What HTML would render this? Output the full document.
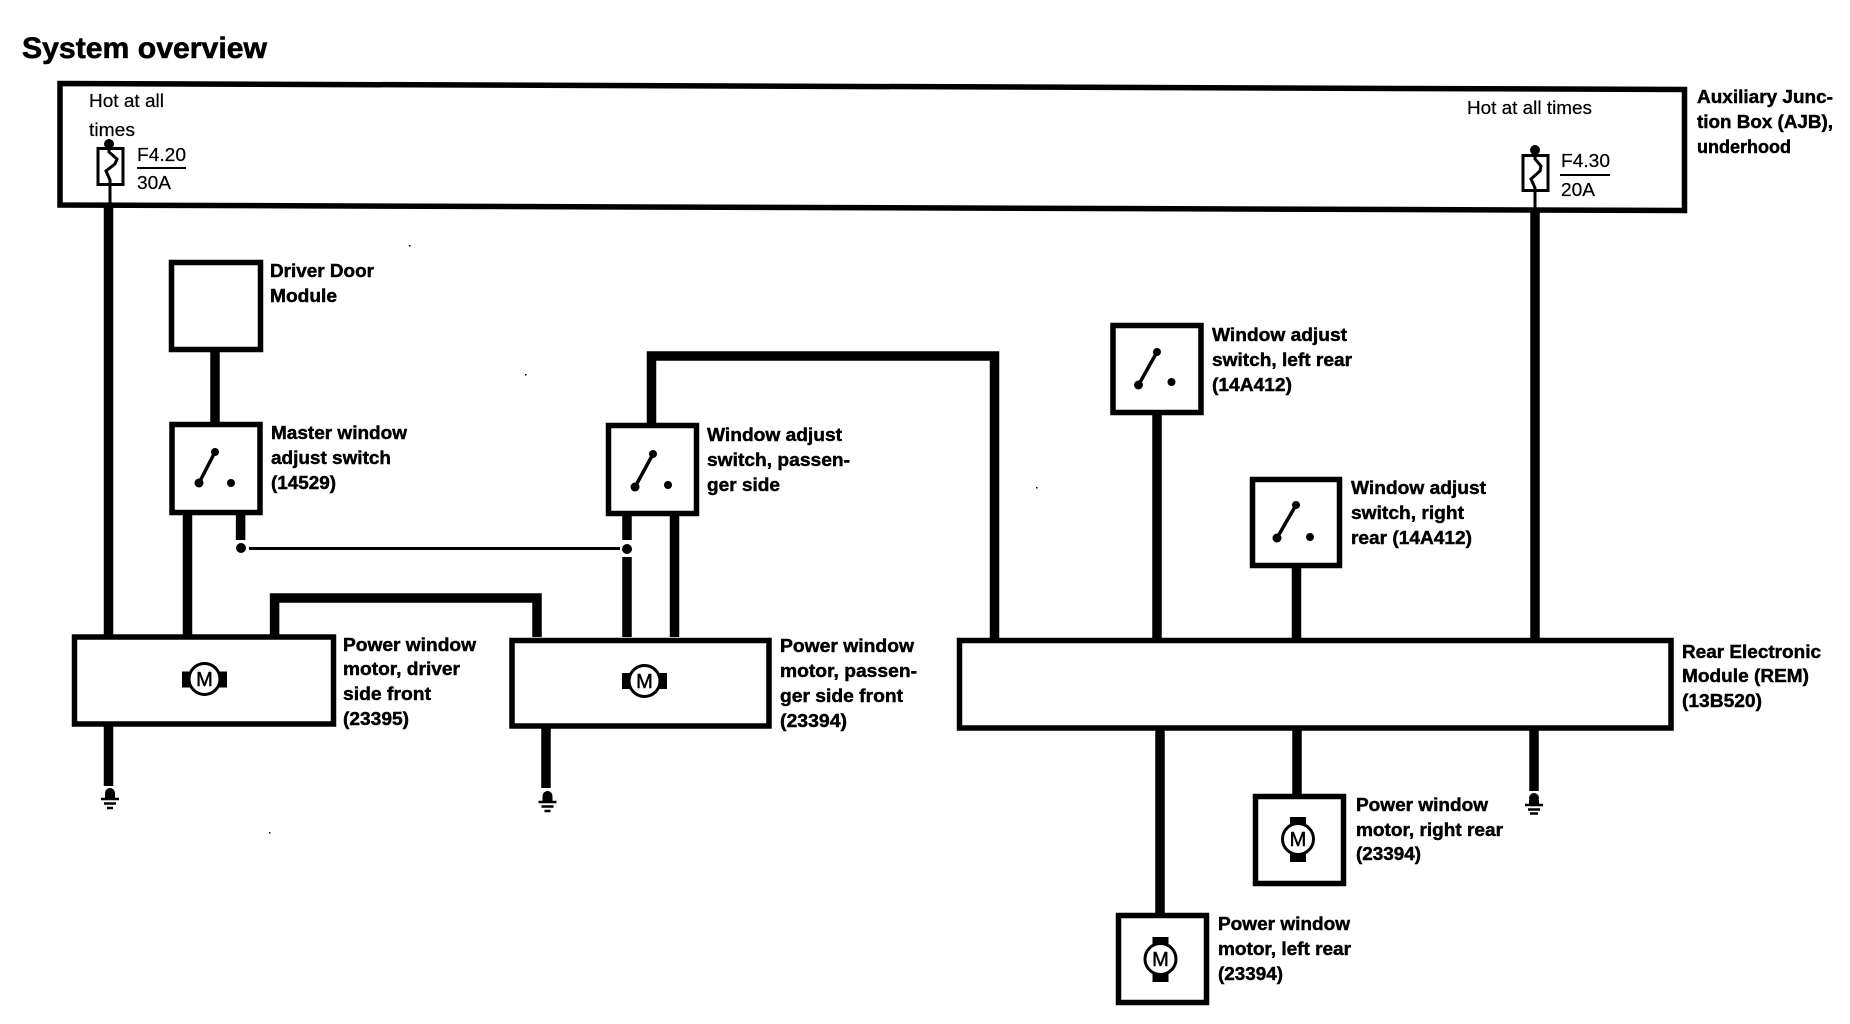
<!DOCTYPE html>
<html lang="en"><head><meta charset="utf-8"><title>System overview</title>
<style>
html,body{margin:0;padding:0;background:#fff;width:1850px;height:1024px;overflow:hidden}
svg{display:block}
text{font-family:"Liberation Sans",sans-serif;fill:#000}
.b{font-weight:bold;font-size:18.5px;stroke:#000;stroke-width:.45px}
.r{font-size:18.5px;stroke:#000;stroke-width:.2px}
.m{font-size:20px;font-weight:normal;text-anchor:middle;stroke:#000;stroke-width:.5px}
.box{fill:#fff;stroke:#000;stroke-width:5.5}
.w{fill:none;stroke:#000;stroke-width:9.5}
.t{fill:none;stroke:#000;stroke-width:3}
.c{fill:none;stroke:#000;stroke-width:3.5}
.mc{fill:#fff;stroke:#000;stroke-width:3}
</style></head><body>
<svg xmlns="http://www.w3.org/2000/svg" width="1850" height="1024" viewBox="0 0 1850 1024">
<rect width="1850" height="1024" fill="#fff"/>
<text x="22" y="58" font-size="30" font-weight="bold" stroke="#000" stroke-width=".6" textLength="245" lengthAdjust="spacingAndGlyphs">System overview</text>

<!-- wires -->
<g class="w">
<path d="M108.500 205V636"/><path d="M108.500 726V786"/>
<path d="M1535 210V645"/><path d="M1534 730V791"/>
<path d="M215 350V423"/><path d="M187.500 513V636"/><path d="M240.600 514V540"/>
<path d="M274.600 636V598H537V637"/>
<path d="M627 515V540"/><path d="M627 557V637"/><path d="M674.500 515V637"/>
<path d="M546 727V788"/>
<path d="M651.500 425V356H994.500V641"/>
<path d="M1157 415V641"/><path d="M1296.500 568V641"/>
<path d="M1160 728V915"/><path d="M1297 730V796"/>
</g>
<path d="M249 548.500H620" stroke="#000" stroke-width="3" fill="none"/>
<circle cx="241" cy="548" r="5"/><circle cx="627" cy="549" r="5"/>

<!-- AJB -->
<path class="box" style="fill:none" d="M60 83.500L1684.500 89.500V210.500L60 205Z"/>
<text class="r" x="89" y="107" textLength="75" lengthAdjust="spacingAndGlyphs">Hot at all</text>
<text class="r" x="89" y="136" textLength="46" lengthAdjust="spacingAndGlyphs">times</text>
<text class="r" x="1467" y="114" textLength="125" lengthAdjust="spacingAndGlyphs">Hot at all times</text>
<!-- fuses -->
<rect x="98" y="148.500" width="25" height="36" fill="none" stroke="#000" stroke-width="3"/>
<circle cx="109" cy="144" r="5"/>
<path class="t" d="M109 147L109 152L117 159L115 164L106 171L110 180L110 206"/>
<text class="r" x="137" y="161" textLength="49" lengthAdjust="spacingAndGlyphs">F4.20</text>
<path d="M137 168H186" stroke="#000" stroke-width="2"/>
<text class="r" x="137" y="189" textLength="34" lengthAdjust="spacingAndGlyphs">30A</text>
<rect x="1523" y="155.500" width="25" height="35" fill="none" stroke="#000" stroke-width="3"/>
<circle cx="1535" cy="150" r="5"/>
<path class="t" d="M1535 153L1535 159L1541 166L1540 171L1531 179L1535 188L1535 208"/>
<text class="r" x="1561" y="167" textLength="49" lengthAdjust="spacingAndGlyphs">F4.30</text>
<path d="M1560 175H1610" stroke="#000" stroke-width="2"/>
<text class="r" x="1561" y="196" textLength="34" lengthAdjust="spacingAndGlyphs">20A</text>
<text class="b" x="1697" y="103" textLength="136" lengthAdjust="spacingAndGlyphs">Auxiliary Junc-</text>
<text class="b" x="1697" y="128" textLength="136" lengthAdjust="spacingAndGlyphs">tion Box (AJB),</text>
<text class="b" x="1697" y="153" textLength="94" lengthAdjust="spacingAndGlyphs">underhood</text>

<!-- Driver door module -->
<rect class="box" x="171.500" y="262.500" width="89" height="87"/>
<text class="b" x="270" y="277" textLength="104" lengthAdjust="spacingAndGlyphs">Driver Door</text>
<text class="b" x="270" y="302" textLength="67" lengthAdjust="spacingAndGlyphs">Module</text>

<!-- Master switch -->
<rect class="box" x="172" y="424.500" width="88" height="88"/>
<path class="c" d="M215 452L199 483"/><circle cx="215" cy="452" r="4"/><circle cx="199" cy="483" r="4.500"/><circle cx="231" cy="483" r="4"/>
<text class="b" x="271" y="439" textLength="136" lengthAdjust="spacingAndGlyphs">Master window</text>
<text class="b" x="271" y="464" textLength="120" lengthAdjust="spacingAndGlyphs">adjust switch</text>
<text class="b" x="271" y="489" textLength="65" lengthAdjust="spacingAndGlyphs">(14529)</text>

<!-- Passenger switch -->
<rect class="box" x="608.500" y="425.500" width="88" height="88"/>
<path class="c" d="M653 454L635 487"/><circle cx="653" cy="454" r="4"/><circle cx="635" cy="487" r="4.500"/><circle cx="668" cy="485" r="4"/>
<text class="b" x="707" y="441" textLength="135" lengthAdjust="spacingAndGlyphs">Window adjust</text>
<text class="b" x="707" y="466" textLength="143" lengthAdjust="spacingAndGlyphs">switch, passen-</text>
<text class="b" x="707" y="491" textLength="73" lengthAdjust="spacingAndGlyphs">ger side</text>

<!-- Left rear switch -->
<rect class="box" x="1113" y="325.500" width="88" height="87"/>
<path class="c" d="M1157 352L1138.500 385"/><circle cx="1157" cy="352" r="4"/><circle cx="1138.500" cy="385" r="4.500"/><circle cx="1171.500" cy="382" r="4"/>
<text class="b" x="1212" y="341" textLength="135" lengthAdjust="spacingAndGlyphs">Window adjust</text>
<text class="b" x="1212" y="366" textLength="140" lengthAdjust="spacingAndGlyphs">switch, left rear</text>
<text class="b" x="1212" y="391" textLength="80" lengthAdjust="spacingAndGlyphs">(14A412)</text>

<!-- Right rear switch -->
<rect class="box" x="1252.500" y="479.500" width="87" height="86"/>
<path class="c" d="M1296 505L1277 538"/><circle cx="1296" cy="505" r="4"/><circle cx="1277" cy="538" r="4.500"/><circle cx="1310" cy="537" r="4"/>
<text class="b" x="1351" y="494" textLength="135" lengthAdjust="spacingAndGlyphs">Window adjust</text>
<text class="b" x="1351" y="519" textLength="113" lengthAdjust="spacingAndGlyphs">switch, right</text>
<text class="b" x="1351" y="544" textLength="121" lengthAdjust="spacingAndGlyphs">rear (14A412)</text>

<!-- Driver motor -->
<rect class="box" x="74.500" y="637" width="259" height="87"/>
<rect x="182" y="671.500" width="45" height="16"/>
<circle class="mc" cx="204.500" cy="679" r="15.500"/>
<text class="m" x="204.500" y="686">M</text>
<text class="b" x="343" y="651" textLength="133" lengthAdjust="spacingAndGlyphs">Power window</text>
<text class="b" x="343" y="675" textLength="117" lengthAdjust="spacingAndGlyphs">motor, driver</text>
<text class="b" x="343" y="700" textLength="88" lengthAdjust="spacingAndGlyphs">side front</text>
<text class="b" x="343" y="725" textLength="66" lengthAdjust="spacingAndGlyphs">(23395)</text>

<!-- Passenger motor -->
<rect class="box" x="512" y="640.500" width="257" height="85.500"/>
<rect x="622" y="673" width="45" height="16"/>
<circle class="mc" cx="644.500" cy="681" r="15.500"/>
<text class="m" x="644.500" y="688">M</text>
<text class="b" x="780" y="652" textLength="134" lengthAdjust="spacingAndGlyphs">Power window</text>
<text class="b" x="780" y="677" textLength="137" lengthAdjust="spacingAndGlyphs">motor, passen-</text>
<text class="b" x="780" y="702" textLength="123" lengthAdjust="spacingAndGlyphs">ger side front</text>
<text class="b" x="780" y="727" textLength="67" lengthAdjust="spacingAndGlyphs">(23394)</text>

<!-- REM -->
<rect class="box" x="959.500" y="640.500" width="711.500" height="87.500"/>
<text class="b" x="1682" y="658" textLength="139" lengthAdjust="spacingAndGlyphs">Rear Electronic</text>
<text class="b" x="1682" y="682" textLength="127" lengthAdjust="spacingAndGlyphs">Module (REM)</text>
<text class="b" x="1682" y="707" textLength="80" lengthAdjust="spacingAndGlyphs">(13B520)</text>

<!-- Right rear motor -->
<rect class="box" x="1255.500" y="796.500" width="88" height="87"/>
<rect x="1290" y="817" width="16" height="45"/>
<circle class="mc" cx="1298" cy="839" r="15.500"/>
<text class="m" x="1298" y="846">M</text>
<text class="b" x="1356" y="811" textLength="132" lengthAdjust="spacingAndGlyphs">Power window</text>
<text class="b" x="1356" y="836" textLength="147" lengthAdjust="spacingAndGlyphs">motor, right rear</text>
<text class="b" x="1356" y="860" textLength="65" lengthAdjust="spacingAndGlyphs">(23394)</text>

<!-- Left rear motor -->
<rect class="box" x="1118.500" y="915.500" width="88" height="87"/>
<rect x="1152.500" y="937" width="16" height="45"/>
<circle class="mc" cx="1160.500" cy="959" r="15.500"/>
<text class="m" x="1160.500" y="966">M</text>
<text class="b" x="1218" y="930" textLength="132" lengthAdjust="spacingAndGlyphs">Power window</text>
<text class="b" x="1218" y="955" textLength="133" lengthAdjust="spacingAndGlyphs">motor, left rear</text>
<text class="b" x="1218" y="980" textLength="65" lengthAdjust="spacingAndGlyphs">(23394)</text>

<!-- Grounds -->
<g stroke="#000">
<circle cx="110" cy="793" r="5" stroke="none"/><path d="M101 799H119" stroke-width="2.500"/><path d="M104 803.500H116" stroke-width="2.500"/><path d="M107 808H113" stroke-width="2.500"/><path d="M105 796H115" stroke-width="4"/>
<circle cx="547.500" cy="796" r="5" stroke="none"/><path d="M538.500 802H556.500" stroke-width="2.500"/><path d="M541.500 806.500H553.500" stroke-width="2.500"/><path d="M544.500 811H550.500" stroke-width="2.500"/><path d="M542.500 799H552.500" stroke-width="4"/>
<circle cx="1534" cy="798" r="5" stroke="none"/><path d="M1525 805H1543" stroke-width="2.500"/><path d="M1528 809.500H1540" stroke-width="2.500"/><path d="M1530 813.500H1538" stroke-width="2.500"/><path d="M1529 802H1539" stroke-width="4"/>
</g>
<rect x="409" y="245" width="1.500" height="1.500"/><rect x="525" y="374" width="1.500" height="1.500"/><rect x="1036" y="487" width="1.500" height="1.500"/><rect x="269" y="832" width="1.500" height="1.500"/>
</svg>
</body></html>
